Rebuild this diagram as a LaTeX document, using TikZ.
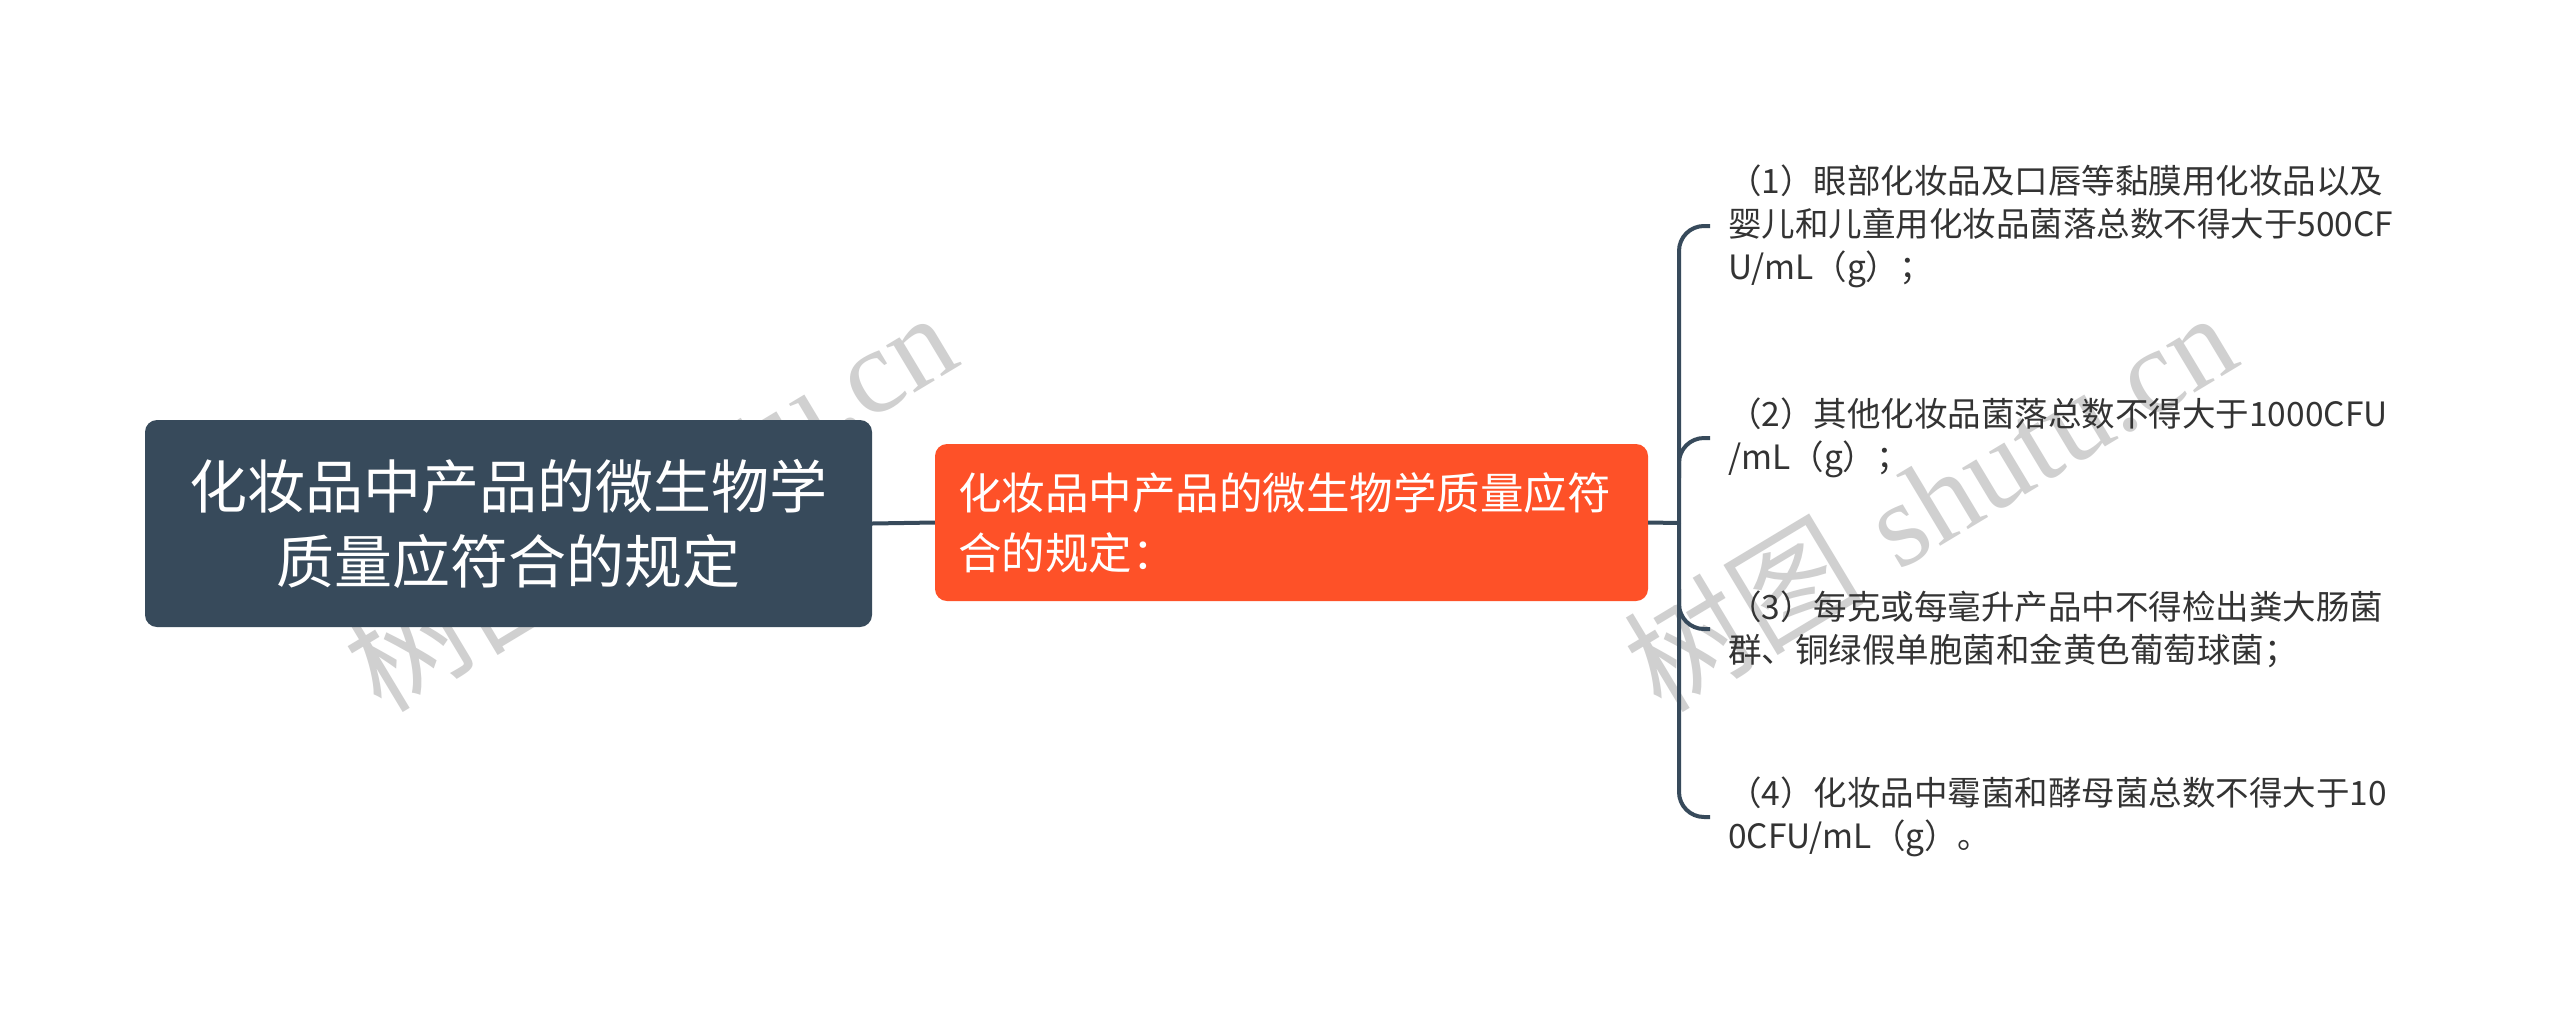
\documentclass[tikz,border=0pt]{standalone}
\usepackage{fontspec}
\newfontfamily\cjk{Noto Sans CJK SC}
\newfontfamily\wmserif{Liberation Serif}
\definecolor{slate}{HTML}{374A5B}
\definecolor{orangered}{HTML}{FE5128}
\definecolor{txtgray}{HTML}{333333}
\definecolor{wmgray}{HTML}{D0D0D0}
\begin{document}
\begin{tikzpicture}[x=1pt,y=-1pt,
  rootbox/.style={fill=slate, draw=none, rounded corners=12pt, minimum width=727pt, minimum height=207pt,
    text=white, align=center, inner sep=0pt, font=\cjk\fontsize{58}{75}\selectfont},
  subbox/.style={fill=orangered, draw=none, rounded corners=12pt, minimum width=713pt, minimum height=157pt,
    text=white, align=left, text width=667pt, inner xsep=23pt, inner ysep=0pt, font=\cjk\fontsize{43.5}{60}\selectfont},
  leaf/.style={anchor=west, inner xsep=18pt, inner ysep=0pt, align=left, text=txtgray,
    font=\cjk\fontsize{33.5}{43}\selectfont},
  conn/.style={draw=slate, line width=4pt},
  wm/.style={text=wmgray, rotate=31, inner sep=0pt, font=\fontsize{120}{130}\selectfont}
]
\useasboundingbox (0,0) rectangle (2560,1026);
\fill[white] (0,0) rectangle (2560,1026);

% watermarks
\node[wm] (wm1) at (649,500) {{\cjk 树图} {\wmserif shutu.cn}};
\node[wm] (wm2) at (1929,500) {{\cjk 树图} {\wmserif shutu.cn}};

% nodes
\node[rootbox] (root) at (508.5,523.5) {化妆品中产品的微生物学\\质量应符合的规定};
\node[subbox] (sub) at (1291.5,522.5) {化妆品中产品的微生物学质量应符\\合的规定：};
\coordinate (junc) at (1679,523);

\node[leaf] (c1) at (1710,226) {（1）眼部化妆品及口唇等黏膜用化妆品以及\\婴儿和儿童用化妆品菌落总数不得大于500CF\\U/mL（g）；};
\node[leaf] (c2) at (1710,438) {（2）其他化妆品菌落总数不得大于1000CFU\\/mL（g）；};
\node[leaf] (c3) at (1710,629) {（3）每克或每毫升产品中不得检出粪大肠菌\\群、铜绿假单胞菌和金黄色葡萄球菌；};
\node[leaf] (c4) at (1710,817) {（4）化妆品中霉菌和酵母菌总数不得大于10\\0CFU/mL（g）。};

% connectors
\draw[conn] (root.east) -- (sub.west);
\draw[conn] (sub.east) -- (junc);
\draw[conn, rounded corners=25pt] (c1.west) -- (c1.west -| junc) -- (junc);
\draw[conn, rounded corners=25pt] (c4.west) -- (c4.west -| junc) -- (junc);
\draw[conn, rounded corners=25pt] (c2.west) -- (c2.west -| junc) -- ++(0,40);
\draw[conn, rounded corners=25pt] (c3.west) -- (c3.west -| junc) -- ++(0,-40);
\end{tikzpicture}
\end{document}
